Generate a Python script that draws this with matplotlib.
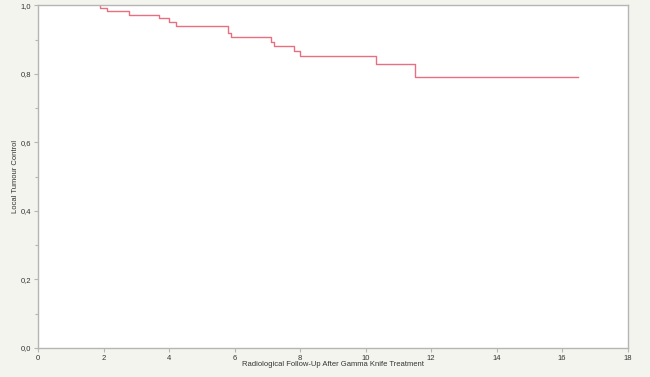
import matplotlib
matplotlib.use("Agg")
import matplotlib.pyplot as plt
from matplotlib.ticker import MultipleLocator, FuncFormatter

# Kaplan-Meier step data (time in years, survival)
event_times = [1.90, 2.10, 2.79, 3.70, 4.00, 4.21, 5.80, 5.90, 7.11, 7.20, 7.81, 8.01, 10.33, 11.51]
survival = [0.993, 0.982, 0.972, 0.962, 0.952, 0.941, 0.920, 0.907, 0.894, 0.881, 0.866, 0.851, 0.830, 0.791]
start_level = 1.0
end_time = 16.50

x_ticks = [0, 2, 4, 6, 8, 10, 12, 14, 16, 18]
y_ticks = [0.0, 0.2, 0.4, 0.6, 0.8, 1.0]

bg = "#f4f4ef"
fig = plt.figure(figsize=(6.5, 3.77), dpi=100, facecolor=bg)
ax = fig.add_axes([38/650, 1 - 348/377, (627.5 - 38)/650, (348 - 5.3)/377])
ax.set_facecolor("white")

xs = [event_times[0]] + event_times + [end_time]
ys = [start_level] + survival + [survival[-1]]
ax.step(xs, ys, where="post", color="#e66f80", lw=1.0, zorder=2)

ax.set_xlim(0, 18)
ax.set_ylim(0, 1.0)
ax.set_xticks(x_ticks)
ax.set_yticks(y_ticks)
ax.yaxis.set_minor_locator(MultipleLocator(0.1))
ax.xaxis.set_major_formatter(FuncFormatter(lambda v, p: f"{v:g}"))
ax.yaxis.set_major_formatter(FuncFormatter(lambda v, p: f"{v:.1f}".replace(".", ",")))

for s in ax.spines.values():
    s.set_color("#b5b5b5")
    s.set_linewidth(1.0)
    s.set_zorder(3)

ax.tick_params(axis="both", which="both", colors="#b5b5b5", labelcolor="#333333",
               labelsize=5.5, length=3, width=0.8, pad=2)
ax.tick_params(axis="both", which="minor", length=2)

fam = ["Liberation Sans", "DejaVu Sans"]
for lab in ax.get_xticklabels() + ax.get_yticklabels():
    lab.set_family(fam)

ax.set_xlabel("Radiological Follow-Up After Gamma Knife Treatment", fontsize=5.5,
              family=fam, color="#333333")
ax.xaxis.set_label_coords(0.5, -(361 - 348)/342.7)
ax.set_ylabel("Local Tumour Control", fontsize=5.5, family=fam, color="#333333")
ax.yaxis.set_label_coords((19 - 38)/589.5, 0.5)

fig.savefig("out.png", dpi=100, facecolor=bg)
